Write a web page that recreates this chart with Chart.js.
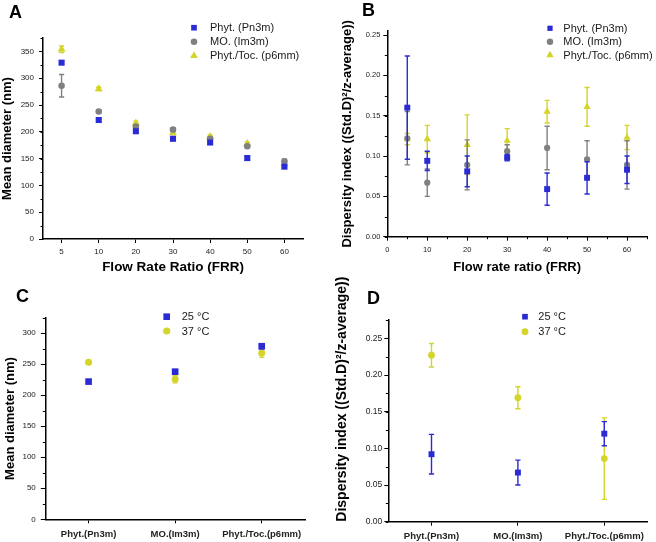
<!DOCTYPE html>
<html><head><meta charset="utf-8">
<script src="https://cdn.jsdelivr.net/npm/chart.js@4.4.1/dist/chart.umd.min.js"></script>
<style>
html,body{margin:0;padding:0;background:#fff;}
body{width:656px;height:542px;position:relative;overflow:hidden;}
canvas{position:absolute;}
.lbl{position:absolute;font:bold 18px/18px "Liberation Sans",Arial,sans-serif;color:#000;}
</style></head><body>
<canvas id="cA" width="330" height="275" style="left:0px;top:0px;width:330px;height:275px"></canvas>
<canvas id="cB" width="326" height="275" style="left:330px;top:0px;width:326px;height:275px"></canvas>
<canvas id="cC" width="330" height="267" style="left:0px;top:275px;width:330px;height:267px"></canvas>
<canvas id="cD" width="326" height="267" style="left:330px;top:275px;width:326px;height:267px"></canvas>
<div class="lbl" style="left:9px;top:3px">A</div>
<div class="lbl" style="left:362px;top:1px">B</div>
<div class="lbl" style="left:16px;top:287px">C</div>
<div class="lbl" style="left:367px;top:289px">D</div>
<script>
// ---------- data ----------
const FRR = ['5', '10', '20', '30', '40', '50', '60'];
const phytD = [329, 222, 201, 187, 180, 151, 135];
const phytDErr = [3, 3, 3, 3, 3, 4, 3];
const moD = [286, 238, 210, 204, 187, 173, 145];
const moDErr = [21, 3, 3, 3, 3, 3, 4];
const tocD = [354, 280, 216, 198, 191, 178, 140];
const tocDErr = [6, 3, 4, 3, 3, 3, 3];

const FRRnum = [5, 10, 20, 30, 40, 50, 60];
const phytPDI = [0.160, 0.094, 0.081, 0.098, 0.059, 0.073, 0.083];
const phytPDIErr = [0.064, 0.012, 0.019, 0.004, 0.020, 0.020, 0.017];
const moPDI = [0.122, 0.067, 0.089, 0.106, 0.110, 0.096, 0.089];
const moPDIErr = [0.033, 0.017, 0.031, 0.008, 0.027, 0.023, 0.030];
const tocPDI = [0.121, 0.121, 0.114, 0.119, 0.155, 0.161, 0.123];
const tocPDIErr = [0.007, 0.017, 0.037, 0.015, 0.014, 0.024, 0.015];

const phases = ['Phyt.(Pn3m)', 'MO.(Im3m)', 'Phyt./Toc.(p6mm)'];
const d25 = [222, 238, 279];
const d25Err = [2, 3, 4];
const d37 = [253, 226, 268];
const d37Err = [3, 6, 7];
const p25 = [0.092, 0.067, 0.120];
const p25Err = [0.027, 0.017, 0.0165];
const p37 = [0.227, 0.169, 0.086];
const p37Err = [0.016, 0.015, 0.0555];

const seriesNames = ['Phyt. (Pn3m)', 'MO. (Im3m)', 'Phyt./Toc. (p6mm)'];
const tempNames = ['25 °C', '37 °C'];

const yTicksA = [0, 50, 100, 150, 200, 250, 300, 350];
const yTicksB = [0, 0.05, 0.10, 0.15, 0.20, 0.25];
const xTicksB = [0, 10, 20, 30, 40, 50, 60];
const yTicksC = [0, 50, 100, 150, 200, 250, 300];
const yTicksD = [0, 0.05, 0.10, 0.15, 0.20, 0.25];

// ---------- style ----------
const BLUE = '#2b2bd6', GRAY = '#808080', YEL = '#d4d42a';
const FONT = '"Liberation Sans", Arial, sans-serif';

// ---------- plugins ----------
const errorBars = {
  id: 'errorBars',
  beforeDatasetDraw(chart, args) {
    const ds = chart.data.datasets[args.index];
    if (!ds.err) return;
    const meta = args.meta;
    const ys = chart.scales[meta.yAxisID];
    const ctx = chart.ctx;
    ctx.save();
    ctx.strokeStyle = ds.backgroundColor;
    ctx.lineWidth = 1.4;
    meta.data.forEach((pt, i) => {
      const v = ds.data[i];
      const val = (typeof v === 'object') ? v.y : v;
      const e = ds.err[i];
      const x = pt.x;
      const yt = ys.getPixelForValue(val + e), yb = ys.getPixelForValue(val - e);
      const cw = 2.6;
      ctx.beginPath();
      ctx.moveTo(x, yt); ctx.lineTo(x, yb);
      ctx.moveTo(x - cw, yt); ctx.lineTo(x + cw, yt);
      ctx.moveTo(x - cw, yb); ctx.lineTo(x + cw, yb);
      ctx.stroke();
    });
    ctx.restore();
  }
};

const boxLegend = {
  id: 'boxLegend',
  afterDraw(chart, args, o) {
    if (!o || o.x === undefined) return;
    const ctx = chart.ctx;
    ctx.save();
    chart.data.datasets.forEach((ds, i) => {
      const y = o.y + i * o.gap;
      ctx.fillStyle = ds.backgroundColor;
      ctx.strokeStyle = ds.backgroundColor;
      Chart.helpers.drawPoint(ctx, {pointStyle: ds.pointStyle, radius: o.r[i], rotation: 0, borderWidth: 0}, o.x, y);
      ctx.fillStyle = '#1a1a1a';
      ctx.font = o.font;
      ctx.textBaseline = 'middle';
      ctx.textAlign = 'left';
      ctx.fillText(ds.label, o.tx, y + 0.5);
    });
    ctx.restore();
  }
};

const minorTicks = {
  id: 'minorTicks',
  afterDraw(chart, args, o) {
    if (!o) return;
    const ctx = chart.ctx;
    const ca = chart.chartArea;
    ctx.save();
    ctx.strokeStyle = '#000';
    ctx.lineWidth = 1;
    ['x', 'y'].forEach(k => {
      const step = o[k];
      if (!step) return;
      const s = chart.scales[k];
      for (let v = s.min; v <= s.max + 1e-9; v += step) {
        const p = s.getPixelForValue(v);
        ctx.beginPath();
        if (k === 'y') { ctx.moveTo(ca.left, Math.round(p) + 0.5); ctx.lineTo(ca.left - 2.5, Math.round(p) + 0.5); }
        else { ctx.moveTo(Math.round(p) + 0.5, ca.bottom); ctx.lineTo(Math.round(p) + 0.5, ca.bottom + 2.5); }
        ctx.stroke();
      }
    });
    ctx.restore();
  }
};

// ---------- helpers ----------
function axisCommon(fontSize, bold, tickLen, pad) {
  return {
    border: {display: true, color: '#000', width: 1.5},
    grid: {display: true, drawOnChartArea: false, drawTicks: true, tickLength: tickLen, color: '#000', lineWidth: 1, offset: false},
    ticks: {color: '#222', font: {family: FONT, size: fontSize, weight: bold ? 'bold' : 'normal'}, padding: pad, autoSkip: false, maxRotation: 0, minRotation: 0, includeBounds: false}
  };
}
function withTitle(ax, text, size, align) {
  ax.title = {display: !!text, text: text, color: '#000', font: {family: FONT, size: size, weight: 'bold'}, padding: 0, align: align || 'center'};
  return ax;
}
function build(id, type, data, geo, scales, pluginOpts) {
  scales.y.afterFit = s => { s.width = geo.left - geo.padL; };
  scales.x.afterFit = s => { s.height = geo.h - geo.bottom; };
  return new Chart(document.getElementById(id), {
    type: type,
    data: data,
    options: {
      responsive: false, animation: false, devicePixelRatio: 1,
      layout: {padding: {left: geo.padL, top: geo.top, right: geo.w - geo.right, bottom: 0}},
      scales: scales,
      plugins: Object.assign({legend: {display: false}, tooltip: {enabled: false}}, pluginOpts)
    },
    plugins: [errorBars, boxLegend, minorTicks]
  });
}
function ds(label, data, err, color, style, r) {
  return {label: label, data: data, err: err, backgroundColor: color, borderColor: color,
    pointStyle: style, pointRadius: r, pointBorderWidth: 0, showLine: false, clip: false};
}
function fixedTicks(arr) { return s => { s.ticks = arr.map(v => ({value: v})); }; }

// ---------- Panel A ----------
(function () {
  const x = axisCommon(8, false, 4, 4);
  x.type = 'category'; x.offset = true;
  withTitle(x, 'Flow Rate Ratio (FRR)', 13.5);
  const y = axisCommon(8, false, 4, 5);
  y.type = 'linear'; y.min = 0; y.max = 375;
  y.afterBuildTicks = fixedTicks(yTicksA);
  withTitle(y, 'Mean diameter (nm)', 13);
  build('cA', 'line', {labels: FRR, datasets: [
    ds(seriesNames[0], phytD, phytDErr, BLUE, 'rect', 4.3),
    ds(seriesNames[1], moD, moDErr, GRAY, 'circle', 3.3),
    ds(seriesNames[2], tocD, tocDErr, YEL, 'triangle', 4.6)
  ]}, {w: 330, h: 275, left: 43, top: 38, right: 303, bottom: 239, padL: 0}, {x: x, y: y},
  {boxLegend: {x: 194, y: 27.7, gap: 14, tx: 210, r: [4, 3.3, 4.5], font: '11px ' + FONT},
   minorTicks: {y: 25}});
})();

// ---------- Panel B ----------
(function () {
  const x = axisCommon(7.5, false, 4, 5);
  x.type = 'linear'; x.min = 0; x.max = 65;
  x.afterBuildTicks = fixedTicks(xTicksB);
  withTitle(x, 'Flow rate ratio (FRR)', 13);
  const y = axisCommon(7.5, false, 4, 3);
  y.type = 'linear'; y.min = 0; y.max = 0.255;
  y.afterBuildTicks = fixedTicks(yTicksB);
  y.ticks.callback = v => v.toFixed(2);
  withTitle(y, 'Dispersity index ((Std.D)²/z-average))', 13);
  const pts = arr => arr.map((v, i) => ({x: FRRnum[i], y: v}));
  build('cB', 'scatter', {datasets: [
    ds(seriesNames[0], pts(phytPDI), phytPDIErr, BLUE, 'rect', 4.2),
    ds(seriesNames[1], pts(moPDI), moPDIErr, GRAY, 'circle', 3.1),
    ds(seriesNames[2], pts(tocPDI), tocPDIErr, YEL, 'triangle', 4.3)
  ]}, {w: 326, h: 275, left: 57.3, top: 31, right: 317, bottom: 236.7, padL: 10}, {x: x, y: y},
  {boxLegend: {x: 220, y: 28.3, gap: 13.4, tx: 233.3, r: [3.7, 3.2, 4.3], font: '11px ' + FONT},
   minorTicks: {x: 5, y: 0.025}});
})();

// ---------- Panel C ----------
(function () {
  const x = axisCommon(9.5, true, 4, 5);
  x.type = 'category'; x.offset = true;
  const y = axisCommon(8, false, 4.5, 5);
  y.type = 'linear'; y.min = 0; y.max = 325;
  y.afterBuildTicks = fixedTicks(yTicksC);
  withTitle(y, 'Mean diameter (nm)', 13);
  build('cC', 'line', {labels: phases, datasets: [
    ds(tempNames[0], d25, d25Err, BLUE, 'rect', 4.7),
    ds(tempNames[1], d37, d37Err, YEL, 'circle', 3.5)
  ]}, {w: 330, h: 267, left: 45.3, top: 42.7, right: 305, bottom: 244.3, padL: 3}, {x: x, y: y},
  {boxLegend: {x: 166.7, y: 41.7, gap: 14.3, tx: 181.7, r: [4.7, 3.6], font: '11px ' + FONT},
   minorTicks: {y: 25}});
})();

// ---------- Panel D ----------
(function () {
  const x = axisCommon(9.5, true, 4, 5);
  x.type = 'category'; x.offset = true;
  const y = axisCommon(8.5, false, 4, 2);
  y.type = 'linear'; y.min = 0; y.max = 0.275;
  y.afterBuildTicks = fixedTicks(yTicksD);
  y.ticks.callback = v => v.toFixed(2);
  withTitle(y, 'Dispersity index ((Std.D)²/z-average))', 14, 'start');
  build('cD', 'line', {labels: phases, datasets: [
    ds(tempNames[0], p25, p25Err, BLUE, 'rect', 4.2),
    ds(tempNames[1], p37, p37Err, YEL, 'circle', 3.4)
  ]}, {w: 326, h: 267, left: 58.3, top: 45, right: 317.5, bottom: 246.7, padL: 3.3}, {x: x, y: y},
  {boxLegend: {x: 195, y: 41.7, gap: 15, tx: 208.3, r: [4, 3.4], font: '11px ' + FONT},
   minorTicks: {y: 0.025}});
})();
</script>
</body></html>
